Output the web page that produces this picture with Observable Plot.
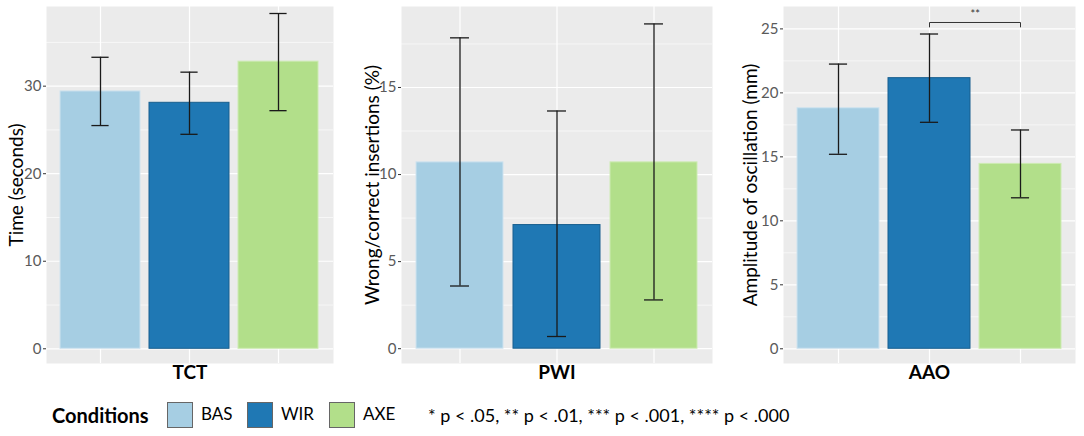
<!DOCTYPE html>
<html>
<head>
<meta charset="utf-8">
<script src="https://cdn.jsdelivr.net/npm/d3@7"></script>
<script src="https://cdn.jsdelivr.net/npm/@observablehq/plot@0.6"></script>
<style>
  html, body { margin: 0; padding: 0; background: #fff; }
  #root { position: relative; width: 1084px; height: 436px; overflow: hidden; font-family: Lato, "Open Sans", sans-serif; }
  .panel { position: absolute; top: 0; }
  .legend { position: absolute; top: 0; left: 0; width: 1084px; height: 436px; pointer-events: none; }
  .lg-title { position: absolute; font-weight: bold; font-size: 20px; color: #000; }
  .lg-box { position: absolute; width: 26px; height: 26px; box-sizing: border-box; border: 1px solid #666; }
  .lg-text { position: absolute; font-size: 17px; color: #000; }
  .lg-note { position: absolute; font-size: 18px; color: #000; }
</style>
</head>
<body>
<div id="root"></div>
<script>
// ---- data ----
const conditions = ["BAS", "WIR", "AXE"];
const conditionColors = ["#A6CEE3", "#1F78B4", "#B2DF8A"];
const conditionOutlines = ["#cfe3ef", "#185f8f", "#cdebb3"];

const metrics = ["TCT", "PWI", "AAO"];
const yTitles = ["Time (seconds)", "Wrong/correct insertions (%)", "Amplitude of oscillation (mm)"];

const tctMean = [29.4, 28.1, 32.8];
const tctLow = [25.5, 24.5, 27.2];
const tctHigh = [33.3, 31.6, 38.3];

const pwiMean = [10.7, 7.1, 10.7];
const pwiLow = [3.6, 0.7, 2.8];
const pwiHigh = [17.85, 13.65, 18.65];

const aaoMean = [18.8, 21.15, 14.45];
const aaoLow = [15.2, 17.7, 11.8];
const aaoHigh = [22.25, 24.6, 17.1];

const majorTicks = [[0, 10, 20, 30], [0, 5, 10, 15], [0, 5, 10, 15, 20, 25]];
const minorTicks = [[5, 15, 25, 35], [2.5, 7.5, 12.5, 17.5], [2.5, 7.5, 12.5, 17.5, 22.5]];
const yDomains = [[-1.68, 39.1], [-0.85, 19.65], [-1.15, 26.75]];

const significance = [{metric: "AAO", from: "WIR", to: "AXE", y: 25.5, tip: 25.15, textY: 26.1, label: "**"}];
const pValueNote = "* p < .05, ** p < .01, *** p < .001, **** p < .000";
const legendTitle = "Conditions";

// ---- layout ----
const layout = [
  {left: 0, width: 340, ml: 46, mr: 7, titleDx: -30},
  {left: 340, width: 380, ml: 61, mr: 8, titleDx: -29},
  {left: 720, width: 364, ml: 63, mr: 9, titleDx: -33}
];
const series = [
  [tctMean, tctLow, tctHigh],
  [pwiMean, pwiLow, pwiHigh],
  [aaoMean, aaoLow, aaoHigh]
];

const root = document.getElementById("root");

metrics.forEach((metric, i) => {
  const L = layout[i];
  const [mean, low, high] = series[i];
  const rows = conditions.map((c, j) => ({
    cond: c, mean: mean[j], low: low[j], high: high[j],
    fill: conditionColors[j], outline: conditionOutlines[j]
  }));
  const unit = (L.width - L.ml - L.mr) / 3.2;
  const capInset = 0.35 * unit;
  const sig = significance.filter(s => s.metric === metric);
  const bracket = sig.flatMap(s => [
    {x: s.from, y: s.tip, k: 0}, {x: s.from, y: s.y, k: 0},
    {x: s.to, y: s.y, k: 0}, {x: s.to, y: s.tip, k: 0}
  ]);

  const chart = Plot.plot({
    width: L.width,
    height: 395,
    marginLeft: L.ml,
    marginRight: L.mr,
    marginTop: 6,
    marginBottom: 32,
    style: {fontFamily: "Lato, 'Open Sans', sans-serif", background: "transparent", overflow: "visible"},
    x: {domain: conditions, paddingInner: 0.1, paddingOuter: 0.15, axis: null},
    y: {domain: yDomains[i], axis: null},
    color: {type: "identity"},
    marks: [
      Plot.frame({fill: "#EBEBEB", stroke: null}),
      Plot.gridY({ticks: minorTicks[i], stroke: "#fff", strokeOpacity: 1, strokeWidth: 0.6}),
      Plot.gridY({ticks: majorTicks[i], stroke: "#fff", strokeOpacity: 1, strokeWidth: 1.2}),
      Plot.gridX({ticks: conditions, stroke: "#fff", strokeOpacity: 1, strokeWidth: 1.2}),
      Plot.barY(rows, {x: "cond", y: "mean", fill: "fill", stroke: "outline", strokeWidth: 1}),
      Plot.ruleX(rows, {x: "cond", y1: "low", y2: "high", stroke: "#1a1a1a", strokeWidth: 1.3}),
      Plot.tickY(rows, {x: "cond", y: "high", stroke: "#1a1a1a", strokeWidth: 1.3, insetLeft: capInset, insetRight: capInset}),
      Plot.tickY(rows, {x: "cond", y: "low", stroke: "#1a1a1a", strokeWidth: 1.3, insetLeft: capInset, insetRight: capInset}),
      Plot.line(bracket, {x: "x", y: "y", z: "k", stroke: "#333", strokeWidth: 1}),
      Plot.text(sig, {x: "from", y: "textY", text: "label", dx: unit / 2, fontSize: 11, fill: "#333"}),
      Plot.axisY({ticks: majorTicks[i], tickSize: 3, tickPadding: 2, fontSize: 15, color: "#5a5a5a", label: null, stroke: "#333"}),
      Plot.text([metric], {frameAnchor: "bottom", dy: 15, text: d => d, fontWeight: "bold", fontSize: 19, fill: "#000"}),
      Plot.text([yTitles[i]], {frameAnchor: "left", textAnchor: "middle", text: d => d, rotate: -90, dx: L.titleDx, fontSize: 19, fill: "#000"})
    ]
  });
  const wrap = document.createElement("div");
  wrap.className = "panel";
  wrap.style.left = L.left + "px";
  wrap.appendChild(chart);
  root.appendChild(wrap);
});

// ---- legend ----
const legend = document.createElement("div");
legend.className = "legend";
const title = document.createElement("div");
title.className = "lg-title";
title.textContent = legendTitle;
title.style.left = "52px";
title.style.top = "403px";
legend.appendChild(title);
const boxLefts = [167, 247, 329];
conditions.forEach((c, j) => {
  const box = document.createElement("div");
  box.className = "lg-box";
  box.style.left = boxLefts[j] + "px";
  box.style.top = "402px";
  box.style.background = conditionColors[j];
  legend.appendChild(box);
  const t = document.createElement("div");
  t.className = "lg-text";
  t.textContent = c;
  t.style.left = (boxLefts[j] + 34) + "px";
  t.style.top = "403px";
  legend.appendChild(t);
});
const note = document.createElement("div");
note.className = "lg-note";
note.textContent = pValueNote;
note.style.left = "428px";
note.style.top = "404px";
legend.appendChild(note);
root.appendChild(legend);
</script>
</body>
</html>
